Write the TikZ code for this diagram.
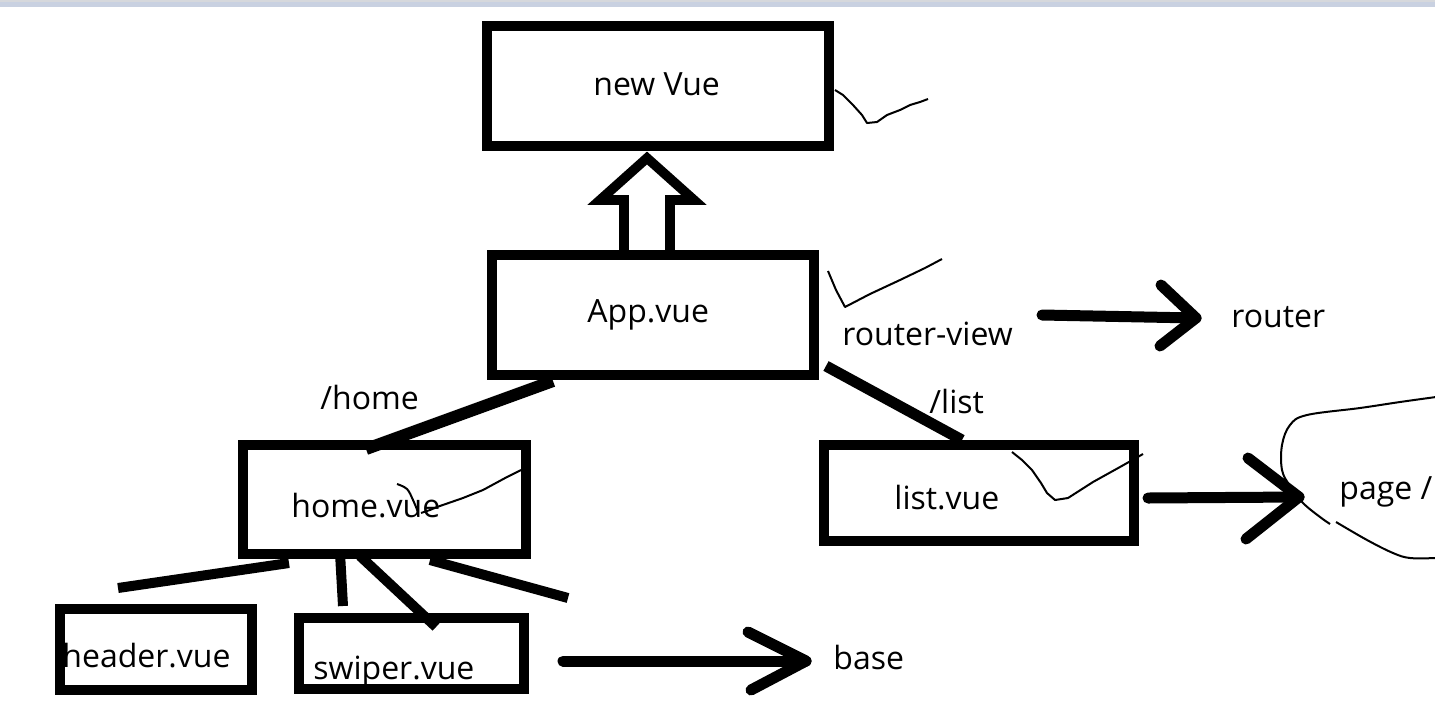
\documentclass[tikz,border=0pt]{standalone}
\usepackage{fontspec}
\setmainfont{Open Sans}
\definecolor{bandblue}{RGB}{201,209,225}
\definecolor{bandgray}{RGB}{214,216,220}
\begin{document}
\begin{tikzpicture}[x=0.5pt,y=-0.5pt,
  vbox/.style={draw, line width=5pt, line join=miter, inner sep=0pt},
  lbl/.style={inner sep=0pt, anchor=base west, font=\fontsize{16pt}{19pt}\selectfont},
  thickline/.style={line width=5pt, line cap=butt},
  arrowline/.style={line width=5.5pt, line cap=round, line join=round},
  thinline/.style={line width=1pt, line join=round}]
\useasboundingbox (0,0) rectangle (1435,703);
\fill[bandblue] (0,0) rectangle (1435,7);
\fill[bandgray] (0,0) rectangle (1435,1.5);

% boxes
\node[vbox, minimum width=171pt, minimum height=60pt] (nv) at (658,86) {};
\node[vbox, minimum width=161pt, minimum height=60pt] (app) at (653,315) {};
\node[vbox, minimum width=141.5pt, minimum height=54.5pt] (home) at (384.5,499.5) {};
\node[vbox, minimum width=155pt, minimum height=48pt] (list) at (979,493) {};
\node[vbox, minimum width=96pt, minimum height=40.5pt] (header) at (156,649.5) {};
\node[vbox, minimum width=112.5pt, minimum height=35.5pt] (swiper) at (411.5,653) {};

% labels
\node[lbl] (tnv) at (593,95) {new Vue};
\node[lbl] (tapp) at (587,322) {App.vue};
\node[lbl] (trv) at (842,345) {router-view};
\node[lbl] (trouter) at (1231,327) {router};
\node[lbl] (thomep) at (320,409) {/home};
\node[lbl] (tlistp) at (929,413) {/list};
\node[lbl] (thome) at (291,517) {home.vue};
\node[lbl] (tlist) at (894,509) {list.vue};
\node[lbl] (tpage) at (1339,499) {page /};
\node[lbl] (theader) at (62,667) {header.vue};
\node[lbl] (tswiper) at (313,679) {swiper.vue};
\node[lbl] (tbase) at (833,669) {base};

% hollow arrow App -> new Vue
\coordinate (ha1) at (624,251);
\coordinate (ha2) at (670,251);
\draw[line width=4.8pt, line join=miter] (ha1) -- (624,200) -- (600,200) -- (647,158) -- (694,200) -- (670,200) -- (ha2);

% route lines
\coordinate (hs) at (553,381);
\coordinate (he) at (366,449);
\draw[thickline, line width=6pt] (hs) -- (he);
\coordinate (ls) at (826,366);
\coordinate (le) at (962,440);
\draw[thickline, line width=5.5pt] (ls) -- (le);

% lines under home
\coordinate (h1s) at (289,563); \coordinate (h1e) at (118,588);
\coordinate (h2s) at (340,553); \coordinate (h2e) at (343,606);
\coordinate (h3s) at (360,556); \coordinate (h3e) at (436,627);
\coordinate (h4s) at (430,560); \coordinate (h4e) at (568,598);
\draw[thickline] (h1s) -- (h1e);
\draw[thickline] (h2s) -- (h2e);
\draw[thickline] (h3s) -- (h3e);
\draw[thickline] (h4s) -- (h4e);

% arrows
\coordinate (ra) at (1042,315); \coordinate (rb) at (1196,318);
\draw[arrowline] (ra) -- (rb);
\draw[arrowline] (1161,285) -- (rb) -- (1160,346);
\coordinate (pa) at (1148,498); \coordinate (pb) at (1299,497);
\draw[arrowline] (pa) -- (pb);
\draw[arrowline] (1248,458) -- (pb) -- (1246,539);
\coordinate (ba) at (563,661); \coordinate (bb) at (806,661);
\draw[arrowline] (ba) -- (bb);
\draw[arrowline] (748,632) -- (bb) -- (751,690);

% hand-drawn ticks
\draw[thinline] (835,90) -- (843,95) -- (853,105) -- (862,115) -- (867,123) -- (877,122) -- (887,115) -- (900,110) -- (910,105) -- (920,102) -- (928,99);
\draw[thinline] (828,271) -- (836,290) -- (845,307) -- (870,294) -- (900,280) -- (925,268) -- (942,259);
\draw[thinline] (1012,452) -- (1022,460) -- (1032,470) -- (1041,483) -- (1047,493) -- (1055,500) -- (1068,498) -- (1093,482) -- (1120,467) -- (1143,454);
\draw[thinline] plot[smooth, tension=0.6] coordinates {(397,484) (407,489) (413,500) (418,512)};
\draw[thinline] (421,513) -- (430,510) -- (437,507) -- (463,498) -- (483,490) -- (507,477) -- (521,470);
% cloud round page
\draw[thinline] plot[smooth, tension=0.6] coordinates {(1436,397) (1400,402) (1360,408) (1307,415) (1290,425) (1282,445) (1282,470) (1290,486) (1303,503) (1320,517) (1330,524)};
\draw[thinline] plot[smooth, tension=0.6] coordinates {(1336,522) (1367,540) (1393,553) (1410,558) (1436,558)};
\end{tikzpicture}
\end{document}
